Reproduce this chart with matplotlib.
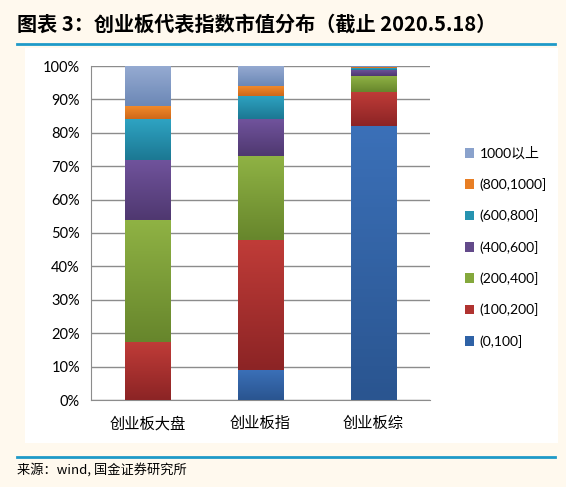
import numpy as np
import matplotlib
matplotlib.use('Agg')
import matplotlib.pyplot as plt
from matplotlib.colors import LinearSegmentedColormap
from matplotlib.patches import Rectangle
from matplotlib.lines import Line2D

plt.rcParams['font.family'] = ['Lato', 'Noto Sans CJK SC', 'DejaVu Sans']

# Data (share of index market value by size bucket, %)
categories = ['创业板大盘', '创业板指', '创业板综']
labels = ['(0,100]', '(100,200]', '(200,400]', '(400,600]', '(600,800]', '(800,1000]', '1000以上']
s_0_100 = [0, 9, 82]
s_100_200 = [17.5, 39, 10.3]
s_200_400 = [36.5, 25, 4.6]
s_400_600 = [18, 11, 1.9]
s_600_800 = [12, 7, 0.5]
s_800_1000 = [4, 3, 0.3]
s_1000_up = [12, 6, 0.4]
series = [s_0_100, s_100_200, s_200_400, s_400_600, s_600_800, s_800_1000, s_1000_up]

# (bottom colour, top colour) for the Excel-like gradient
colors = [('#2a5590', '#3b70b8'),
          ('#8c2425', '#c03c38'),
          ('#67862c', '#8fb244'),
          ('#4f3870', '#70539c'),
          ('#1c7893', '#2ea3c2'),
          ('#cf681a', '#f38c2c'),
          ('#6c88b6', '#96abd2')]
legend_colors = ['#2f62a6', '#b03330', '#84a83c', '#634a8a', '#2693b0', '#e87e24', '#8aa2cc']

fig = plt.figure(figsize=(5.66, 4.87), dpi=100)
fig.patch.set_facecolor('#fff9ee')

# white panel behind the chart
fig.patches.append(Rectangle((25 / 566, 1 - 443 / 487), 533 / 566, 395 / 487,
                             transform=fig.transFigure, facecolor='white',
                             edgecolor='none', zorder=-5))
# header / footer rules
for y in [1 - 44 / 487, 1 - 457 / 487]:
    fig.lines.append(Line2D([17 / 566, 555 / 566], [y, y], transform=fig.transFigure,
                            color='#1f9ac8', linewidth=2, zorder=-4))

fig.text(17 / 566, 1 - 24 / 487, '图表 3：创业板代表指数市值分布（截止 2020.5.18）',
         fontsize=14.5, fontweight='bold', style='italic', va='center', ha='left',
         family=['Noto Sans CJK SC', 'DejaVu Sans'])
fig.text(17 / 566, 1 - 470 / 487, '来源：wind, 国金证券研究所', fontsize=9.5,
         va='center', ha='left', family=['Noto Sans CJK SC', 'DejaVu Sans'])

ax = fig.add_axes([91 / 566, 1 - 400 / 487, 339 / 566, 334 / 487])
ax.set_facecolor('white')

x = np.arange(len(categories))
width = 0.4
grad = np.linspace(0, 1, 64).reshape(-1, 1)
bottom = np.zeros(len(categories))
handles = []
for vals, (c0, c1), lab, lc in zip(series, colors, labels, legend_colors):
    vals = np.array(vals, dtype=float)
    cmap = LinearSegmentedColormap.from_list(lab, [c0, c1])
    for xi, b, v in zip(x, bottom, vals):
        if v <= 0:
            continue
        ax.imshow(grad, cmap=cmap, aspect='auto', origin='lower',
                  extent=(xi - width / 2, xi + width / 2, b, b + v), zorder=3)
    bottom += vals
    handles.append(Rectangle((0, 0), 1, 1, facecolor=lc, edgecolor='none', label=lab))

ax.set_xlim(-0.5, 2.5)
ax.set_ylim(0, 100)
ax.set_yticks(np.arange(0, 101, 10))
ax.set_yticklabels([f'{v}%' for v in range(0, 101, 10)])
ax.set_xticks(x)
ax.set_xticklabels(categories, family=['Noto Sans CJK SC', 'DejaVu Sans'], fontsize=11)
ax.tick_params(axis='y', length=0, labelsize=10.5, pad=8)
ax.tick_params(axis='x', length=0, pad=11)
ax.yaxis.grid(True, color='#8c8c8c', linewidth=1)
ax.set_axisbelow(True)
for side in ['top', 'right']:
    ax.spines[side].set_visible(False)
for side in ['left', 'bottom']:
    ax.spines[side].set_color('#8c8c8c')

fig.legend(handles[::-1], labels[::-1], loc='upper left',
           bbox_to_anchor=(452 / 566, 1 - 134 / 487), frameon=False,
           handlelength=0.7, handleheight=0.7, handletextpad=0.4,
           labelspacing=1.32, prop={'family': ['Lato', 'Noto Sans CJK SC'], 'size': 10})

fig.savefig('out.png', dpi=100, facecolor=fig.get_facecolor())
